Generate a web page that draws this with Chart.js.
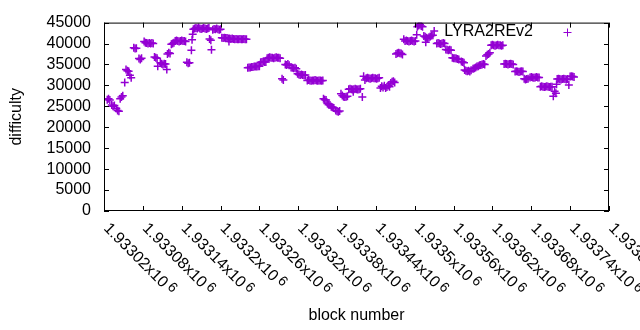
<!DOCTYPE html>
<html>
<head>
<meta charset="utf-8">
<script src="https://cdn.jsdelivr.net/npm/chart.js@4.4.1/dist/chart.umd.min.js"></script>
<style>
  body { margin: 0; background: #fff; }
  canvas { display: block; }
</style>
</head>
<body>
<canvas id="diffChart" width="640" height="330"></canvas>
<script>
// block numbers and difficulty (one line per visible cluster)
const blockNumbers = [
  1933025, 1933027, 1933029,
  1933032, 1933034, 1933036,
  1933039, 1933041, 1933043,
  1933045, 1933047, 1933049,
  1933052, 1933054, 1933056, 1933058, 1933060, 1933062,
  1933066, 1933068, 1933070, 1933074, 1933076, 1933078,
  1933082, 1933084, 1933086, 1933088, 1933090, 1933092, 1933094, 1933096,
  1933098, 1933100, 1933102, 1933103,
  1933107, 1933109, 1933111, 1933113, 1933115, 1933117,
  1933118, 1933120, 1933122, 1933124, 1933126, 1933128,
  1933130, 1933132, 1933134, 1933136, 1933138, 1933140, 1933142, 1933144, 1933146,
  1933148, 1933150, 1933152, 1933155, 1933156, 1933157,
  1933158, 1933160, 1933162, 1933164, 1933166, 1933168, 1933170, 1933172, 1933174, 1933176, 1933178, 1933180, 1933182,
  1933183, 1933185, 1933186,
  1933188, 1933190, 1933192, 1933194, 1933196, 1933198, 1933200,
  1933202, 1933204, 1933206, 1933208, 1933210, 1933212, 1933213, 1933214, 1933216, 1933218,
  1933220, 1933222, 1933224, 1933226, 1933228, 1933230, 1933232, 1933234, 1933236, 1933238, 1933240,
  1933242, 1933244, 1933246, 1933248, 1933250, 1933252, 1933254, 1933256, 1933258, 1933260,
  1933262, 1933264, 1933266, 1933268, 1933270,
  1933272, 1933274, 1933276, 1933278, 1933280, 1933282, 1933284, 1933286, 1933288, 1933290, 1933292,
  1933295, 1933297, 1933300, 1933302, 1933304, 1933306,
  1933309, 1933311, 1933313, 1933315, 1933317,
  1933319, 1933321, 1933323, 1933325, 1933327, 1933329, 1933331,
  1933334, 1933336, 1933338, 1933340, 1933342, 1933344, 1933346, 1933348, 1933350, 1933352, 1933354, 1933356, 1933358,
  1933359, 1933361, 1933363, 1933365, 1933367, 1933369,
  1933371, 1933373, 1933375, 1933378, 1933380, 1933382, 1933384,
  1933386, 1933388, 1933390, 1933392, 1933394, 1933396,
  1933398, 1933400, 1933402, 1933404, 1933405, 1933406, 1933408, 1933410, 1933412, 1933414, 1933416,
  1933419, 1933421, 1933423, 1933425, 1933427, 1933429, 1933431, 1933433, 1933435, 1933437, 1933439, 1933441, 1933443, 1933445,
  1933447, 1933449, 1933451, 1933453, 1933455, 1933457, 1933459, 1933461,
  1933463, 1933465, 1933467, 1933469,
  1933471, 1933473, 1933475, 1933477, 1933479, 1933481,
  1933483, 1933485, 1933487, 1933489, 1933491, 1933493, 1933495, 1933497, 1933499, 1933501,
  1933503, 1933504, 1933506, 1933508, 1933510, 1933512,
  1933514, 1933516, 1933517, 1933518, 1933520, 1933522, 1933524, 1933526, 1933528, 1933530,
  1933534, 1933536, 1933538, 1933540, 1933542, 1933544, 1933546,
  1933548, 1933550, 1933552, 1933554, 1933556,
  1933558, 1933560, 1933562, 1933564, 1933566, 1933568, 1933572, 1933574, 1933576,
  1933577, 1933579, 1933581, 1933583, 1933585, 1933587,
  1933590, 1933592, 1933594, 1933596, 1933598, 1933600, 1933602, 1933604, 1933606, 1933608,
  1933610, 1933612, 1933614, 1933616,
  1933618, 1933620, 1933622, 1933624, 1933626, 1933628, 1933630, 1933632, 1933634, 1933636,
  1933638, 1933640, 1933642, 1933644, 1933646, 1933648, 1933650, 1933652,
  1933655, 1933657, 1933659, 1933661, 1933663, 1933665, 1933667,
  1933669, 1933671, 1933673, 1933675,
  1933678, 1933680, 1933682, 1933684, 1933686, 1933688, 1933690, 1933692,
  1933694, 1933696, 1933698, 1933700, 1933702, 1933704, 1933706, 1933708, 1933710, 1933712,
  1933714, 1933716, 1933718,
  1933719, 1933720, 1933722, 1933724, 1933726, 1933728, 1933730, 1933732, 1933734, 1933736,
  1933738, 1933740, 1933742, 1933744, 1933746
];

const difficulty = [
  26600, 26800, 26500,
  25300, 25000, 25200,
  24500, 24000, 23800,
  26800, 27200, 27500,
  30700, 33800, 33500, 33400, 32400, 31800,
  39000, 38800, 38900, 36400, 36200, 36500,
  40500, 40200, 40100, 40000, 40100, 40000, 40100, 40000,
  36800, 36600, 36500, 34600,
  35400, 35200, 35000, 35200, 35100, 33800,
  37500, 37800, 37600, 39800, 40000, 40200,
  40600, 40700, 40600, 40500, 40600, 40700, 40600, 40600, 40500,
  35500, 35300, 35400, 38400, 40900, 42200,
  43400, 43600, 43700, 43600, 43800, 43600, 43500, 43600, 43700, 43600, 43500, 43600, 43700,
  41100, 40800, 38500,
  43300, 43500, 43400, 43600, 43400, 43300, 43400,
  41400, 41300, 41400, 41300, 41300, 41200, 40500, 41200, 41100, 41200,
  41100, 41000, 41100, 41000, 41000, 41100, 41000, 41000, 41100, 41000, 41000,
  34200, 34300, 34300, 34400, 34400, 34500, 34500, 34500, 34600, 34600,
  35500, 35600, 35700, 35600, 35600,
  36500, 36600, 36700, 36600, 36600, 36500, 36600, 36700, 36600, 36600, 36500,
  31600, 31300, 35000, 34900, 35100, 34800,
  34300, 34200, 34100, 34200, 34000,
  32800, 32600, 32500, 32600, 32500, 32400, 32500,
  31200, 31300, 31200, 31100, 31200, 31200, 31300, 31200, 31100, 31200, 31200, 31100, 31200,
  26800, 26600, 26500, 25700, 25400, 25300,
  24900, 24800, 24600, 24000, 23800, 23700, 23900,
  28000, 27600, 27300, 27200, 27300, 27400,
  29100, 29200, 29100, 29000, 28500, 29100, 29200, 29100, 29000, 29100, 29200,
  27200, 32200, 31300, 31700, 31800, 31700, 31600, 31700, 31800, 31700, 31700, 31600, 31700, 31800,
  29400, 29800, 29500, 29900, 29400, 29600, 30000, 29700,
  30600, 30900, 31000, 30700,
  37500, 37700, 37800, 37700, 37600, 37400,
  41000, 40600, 40700, 40600, 40500, 40600, 40700, 40600, 40500, 40600,
  42100, 44000, 44300, 44500, 44200, 44000,
  41800, 41600, 40300, 41400, 41200, 41500, 41700, 41900, 42000, 43000,
  40000, 40100, 40000, 39900, 40000, 40100, 40000,
  38600, 38500, 38400, 38500, 38400,
  36600, 36500, 36500, 36400, 36300, 36200, 35700, 35600, 35400,
  33700, 33500, 33400, 33500, 33300, 33600,
  34000, 34100, 34300, 34500, 34600, 34800, 34900, 35000, 35100, 35000,
  37000, 37300, 37500, 37800,
  39600, 39700, 39600, 39500, 39600, 39700, 39600, 39600, 39500, 39600,
  35100, 35200, 35100, 35000, 35100, 35200, 35100, 35000,
  33300, 33400, 33300, 33200, 33300, 33400, 33300,
  31600, 31400, 31500, 31600,
  31900, 32000, 31900, 31800, 31900, 32000, 31900, 31900,
  29700, 29800, 29700, 29600, 29700, 29800, 29700, 29600, 29700, 29700,
  27400, 28600, 28100,
  30300, 31500, 31600, 31500, 31400, 31500, 31600, 31500, 31400, 31500,
  30100, 32100, 32200, 32100, 32000
];

// x tick labels as printed (mantissa part, the "x10 6" suffix is added when drawing)
const xTickLabels = ['1.93302', '1.93308', '1.93314', '1.9332', '1.93326', '1.93332', '1.93338',
  '1.93344', '1.9335', '1.93356', '1.93362', '1.93368', '1.93374', '1.9338'];

const purple = '#9400d3';
const font = '"Liberation Sans", Arial, sans-serif';

// gnuplot look: box border, inward ticks, rotated x labels, key inside the plot
const gnuplotFrame = {
  id: 'gnuplotFrame',
  afterDraw(chart) {
    const { ctx, chartArea: a, scales: { x, y } } = chart;
    ctx.save();
    ctx.strokeStyle = '#000';
    ctx.lineWidth = 1;
    ctx.strokeRect(a.left + 0.5, a.top + 0.5, a.right - a.left - 1, a.bottom - a.top - 1);
    ctx.beginPath();
    x.ticks.forEach(t => {
      const px = Math.round(x.getPixelForValue(t.value)) + 0.5;
      ctx.moveTo(px, a.bottom); ctx.lineTo(px, a.bottom - 5);
      ctx.moveTo(px, a.top); ctx.lineTo(px, a.top + 5);
    });
    y.ticks.forEach(t => {
      const py = Math.round(y.getPixelForValue(t.value)) + 0.5;
      ctx.moveTo(a.left, py); ctx.lineTo(a.left + 5, py);
      ctx.moveTo(a.right, py); ctx.lineTo(a.right - 5, py);
    });
    ctx.stroke();

    ctx.fillStyle = '#000';
    ctx.textAlign = 'left';
    ctx.textBaseline = 'middle';
    x.ticks.forEach((t, i) => {
      if (!xTickLabels[i]) return;
      const px = x.getPixelForValue(t.value);
      ctx.save();
      ctx.translate(px + 2, a.bottom + 15);
      ctx.rotate(Math.PI / 4);
      ctx.font = '16px ' + font;
      const base = xTickLabels[i] + 'x10';
      ctx.fillText(base, 0, 0);
      const w = ctx.measureText(base).width;
      ctx.font = '14px ' + font;
      ctx.fillText('6', w + 3, -3);
      ctx.restore();
    });

    // key
    const ds = chart.data.datasets[0];
    ctx.font = '16px ' + font;
    ctx.textAlign = 'right';
    ctx.fillText(ds.label, 533, 32);
    ctx.strokeStyle = purple;
    ctx.beginPath();
    ctx.moveTo(563.5, 32.5); ctx.lineTo(571.5, 32.5);
    ctx.moveTo(567.5, 28.5); ctx.lineTo(567.5, 36.5);
    ctx.stroke();
    ctx.restore();
  }
};

new Chart(document.getElementById('diffChart').getContext('2d'), {
  type: 'scatter',
  data: {
    datasets: [{
      label: 'LYRA2REv2',
      data: blockNumbers.map((b, i) => ({ x: b, y: difficulty[i] })),
      pointStyle: 'cross',
      pointRadius: 4,
      pointBorderWidth: 1.5,
      borderColor: purple,
      backgroundColor: purple,
      showLine: false
    }]
  },
  options: {
    responsive: false,
    animation: false,
    layout: { padding: { left: 0, right: 31, top: 20, bottom: 0 } },
    plugins: { legend: { display: false }, tooltip: { enabled: false } },
    scales: {
      x: {
        type: 'linear',
        min: 1933020,
        max: 1933800,
        ticks: { stepSize: 60, display: false },
        grid: { display: false, drawTicks: false },
        border: { display: false },
        title: { display: true, text: 'block number', color: '#000',
          font: { size: 16, family: font }, padding: { top: 0, bottom: 5 } },
        afterFit(s) { s.height = 119; }
      },
      y: {
        min: 0,
        max: 45000,
        ticks: { stepSize: 5000, autoSkip: false, color: '#000', padding: 13,
          font: { size: 16, family: font }, callback: v => String(v) },
        grid: { display: false, drawTicks: false },
        border: { display: false },
        title: { display: true, text: 'difficulty', color: '#000',
          font: { size: 16, family: font }, padding: { top: 7, bottom: 0 } },
        afterFit(s) { s.width = 104; }
      }
    }
  },
  plugins: [gnuplotFrame]
});
</script>
</body>
</html>
